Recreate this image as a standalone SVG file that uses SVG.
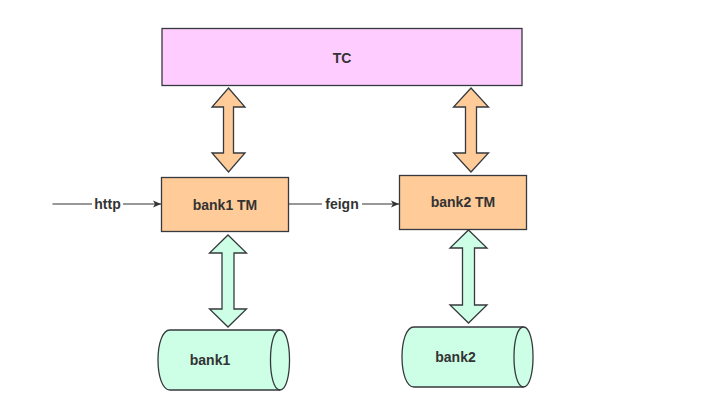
<svg xmlns="http://www.w3.org/2000/svg" width="704" height="410" viewBox="0 0 704 410">
<style>
.box{stroke:#36393d;stroke-width:1.3}
.tc{fill:#ffccff}
.tm{fill:#ffcc99}
.db{fill:#ccffe6}
.dbl{fill:#ffcc99;stroke:#36393d;stroke-width:1.3;stroke-linejoin:miter}
.dbg{fill:#ccffe6;stroke:#36393d;stroke-width:1.3;stroke-linejoin:miter}
.t{font-family:"Liberation Sans",Arial,sans-serif;font-weight:bold;font-size:14px;fill:#333333;text-anchor:middle}
.ln{stroke:#333333;stroke-width:1.2;fill:none}
</style>
<defs>
<marker id="ah" markerWidth="10" markerHeight="10" refX="8" refY="5" orient="auto" markerUnits="userSpaceOnUse">
<path d="M0,1.5 L8,5 L0,8.5 L2,5 Z" fill="#333333"/>
</marker>
</defs>
<rect width="704" height="410" fill="#ffffff"/>
<g id="TC">
<rect class="box tc" x="162" y="28.5" width="360" height="57"/>
<text class="t" x="342" y="62.5">TC</text>
</g>
<g id="bank1TM">
<rect class="box tm" x="161.5" y="177.5" width="127" height="54"/>
<text class="t" x="225" y="210">bank1 TM</text>
</g>
<g id="bank2TM">
<rect class="box tm" x="399.5" y="175.5" width="127" height="54"/>
<text class="t" x="463" y="207">bank2 TM</text>
</g>
<g id="bank1">
<path class="box db" d="M170,330 L280,330 C292.7,330 292.7,390 280,390 L170,390 C154,390 154,330 170,330 Z"/>
<path class="box" fill="none" d="M280,330 C267.3,330 267.3,390 280,390"/>
<text class="t" x="210" y="365">bank1</text>
</g>
<g id="bank2">
<path class="box db" d="M414,327 L523.5,327 C536.2,327 536.2,387 523.5,387 L414,387 C398,387 398,327 414,327 Z"/>
<path class="box" fill="none" d="M523.5,327 C510.8,327 510.8,387 523.5,387"/>
<text class="t" x="455.5" y="362">bank2</text>
</g>
<g id="connectors">
<polygon class="dbl" points="228.5,88 245,107 233.5,107 233.5,153 245,153 228.5,172 212,153 223.5,153 223.5,107 212,107"/>
<polygon class="dbl" points="471,88 488.5,107 476.5,107 476.5,153 488.5,153 471,172 453.5,153 465.5,153 465.5,107 453.5,107"/>
<polygon class="dbg" points="228,235 246.5,253 234,253 234,309 246.5,309 228,327 209.5,309 222,309 222,253 209.5,253"/>
<polygon class="dbg" points="468.5,230 487,248 474.5,248 474.5,305 487,305 468.5,323 450,305 462.5,305 462.5,248 450,248"/>
<line class="ln" x1="52.5" y1="204" x2="161" y2="204" marker-end="url(#ah)"/>
<rect x="92" y="196" width="31" height="16" fill="#ffffff"/>
<text class="t" x="107.5" y="208.5">http</text>
<line class="ln" x1="288.5" y1="204" x2="399" y2="204" marker-end="url(#ah)"/>
<rect x="322" y="196" width="40" height="16" fill="#ffffff"/>
<text class="t" x="342" y="208.5">feign</text>
</g>
</svg>
